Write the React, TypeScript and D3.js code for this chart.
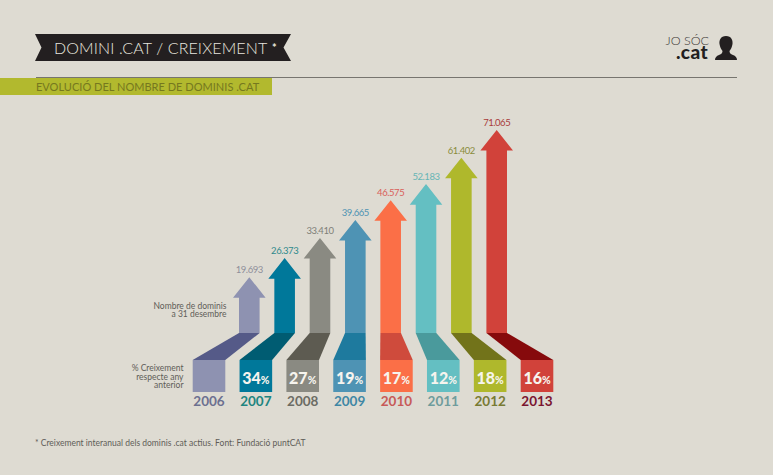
import React from 'react';
import * as d3 from 'd3';

const years = ['2006', '2007', '2008', '2009', '2010', '2011', '2012', '2013'];
const domains = [19693, 26373, 33410, 39665, 46575, 52183, 61402, 71065];
const growth = [null, 34, 27, 19, 17, 12, 18, 16];

const bodyColors = ['#8e92b1', '#00789a', '#8a8a82', '#4e93b4', '#fb6f47', '#64bfc2', '#afb82c', '#d1423a'];
const foldColors = ['#555a88', '#005c72', '#5d5b51', '#1e7a9e', '#cf4b3c', '#4a9a9c', '#72731a', '#860a0c'];
const yearColors = ['#6c7090', '#1f8580', '#6c6c64', '#3f87a5', '#c75a58', '#6f9c9c', '#787a33', '#7a1530'];
const labelColors = ['#8f8f9b', '#2f8a8c', '#7f7f78', '#4f93b3', '#d9605a', '#66b5b5', '#8a8c3c', '#a83a3a'];

const W = 773;
const H = 475;
const font = 'Lato, sans-serif';

const App: React.FC = () => {
  // arrow tips are proportional to the value
  const y = d3.scaleLinear().domain([0, 71065]).range([333.6, 130]);
  const shaftX = d3.scalePoint<string>().domain(years).range([249.3, 496.7]);
  const boxX = d3.scalePoint<string>().domain(years).range([209, 537]);
  const fmt = d3.format(',');

  const shaftW = 20.6;
  const boxW = 32.6;
  const headW = 32.6;
  const headH = 20.6;
  const foldTop = 333;
  const boxTop = 360;
  const boxBottom = 392;

  return (
    <svg
      width={W}
      height={H}
      style={{ position: 'absolute', left: 0, top: 0, background: '#dedbd2' }}
      fontFamily={font}
    >
      {/* title ribbon */}
      <path d="M35,34 L291,34 L283.5,47.5 L291,61 L35,61 L41.5,47.5 Z" fill="#231f20" />
      <text x={54} y={53.5} fontSize={16} fontWeight={300} fill="#e8e6df" letterSpacing={0.12}>
        DOMINI .CAT / CREIXEMENT
      </text>
      <text x={272} y={52} fontSize={11} fontWeight={700} fill="#e8e6df">*</text>

      <rect x={0} y={78} width={272} height={17} fill="#b2b92e" />
      <line x1={36} x2={737} y1={77.5} y2={77.5} stroke="#77756f" strokeWidth={1} />
      <text x={36} y={91} fontSize={11} fill="#75781f" letterSpacing={0.02}>
        EVOLUCIÓ DEL NOMBRE DE DOMINIS .CAT
      </text>

      {/* logo */}
      <text x={709} y={45} fontSize={12.5} fontWeight={300} fill="#3a3835" textAnchor="end">JO SÓC</text>
      <text x={708} y={59} fontSize={19} fontWeight={900} fill="#231f20" textAnchor="end" letterSpacing={0.4}>.cat</text>
      <path
        d="M726,36 C720.5,36 719,40.5 719.5,44 C720,47 721,49 722.5,51 C722.5,53 721.5,54 719,55 C716.5,56 715,57.5 715,60 L737,60 C737,57.5 735.5,56 733,55 C730.5,54 729.5,53 729.5,51 C731,49 732,47 732.5,44 C733,40.5 731.5,36 726,36 Z"
        fill="#231f20"
      />

      {years.map((yr, i) => {
        const sx = shaftX(yr) as number;
        const bx = boxX(yr) as number;
        const tip = y(domains[i]);
        const headBase = tip + headH;
        const arrow = [
          [sx, tip],
          [sx + headW / 2, headBase],
          [sx + shaftW / 2, headBase],
          [sx + shaftW / 2, foldTop],
          [sx - shaftW / 2, foldTop],
          [sx - shaftW / 2, headBase],
          [sx - headW / 2, headBase],
        ] as [number, number][];
        const fold = [
          [sx - shaftW / 2, foldTop],
          [sx + shaftW / 2, foldTop],
          [bx + boxW / 2, boxTop],
          [bx - boxW / 2, boxTop],
        ] as [number, number][];
        const pct = growth[i];
        return (
          <g key={yr}>
            <path d={d3.line()(arrow) + 'Z'} fill={bodyColors[i]} />
            <path d={d3.line()(fold) + 'Z'} fill={foldColors[i]} />
            <rect x={bx - boxW / 2} y={boxTop} width={boxW} height={boxBottom - boxTop} fill={bodyColors[i]} />
            <text x={sx} y={tip - 4} fontSize={9.5} fontWeight={400} fill={labelColors[i]} textAnchor="middle" letterSpacing={-0.45}>
              {fmt(domains[i]).replace(',', '.')}
            </text>
            {pct !== null && (
              <text x={bx} y={384} fill="#f6f4ee" fontWeight={900} fontSize={16} textAnchor="middle">
                {pct}
                <tspan fontSize={10.5}>%</tspan>
              </text>
            )}
            <text x={bx} y={405.5} fontSize={13.5} fontWeight={700} fill={yearColors[i]} textAnchor="middle">
              {yr}
            </text>
          </g>
        );
      })}

      <g fontSize={8.5} fill="#5f5d58" textAnchor="end">
        <text x={226.5} y={308.5}>Nombre de dominis</text>
        <text x={226.5} y={317}>a 31 desembre</text>
        <text x={183.5} y={371}>% Creixement</text>
        <text x={183.5} y={379.5}>respecte any</text>
        <text x={183.5} y={388}>anterior</text>
      </g>

      <text x={35} y={446} fontSize={8.5} fill="#5f5d58">
        * Creixement interanual dels dominis .cat actius. Font: Fundació puntCAT
      </text>
    </svg>
  );
};

export default App;
